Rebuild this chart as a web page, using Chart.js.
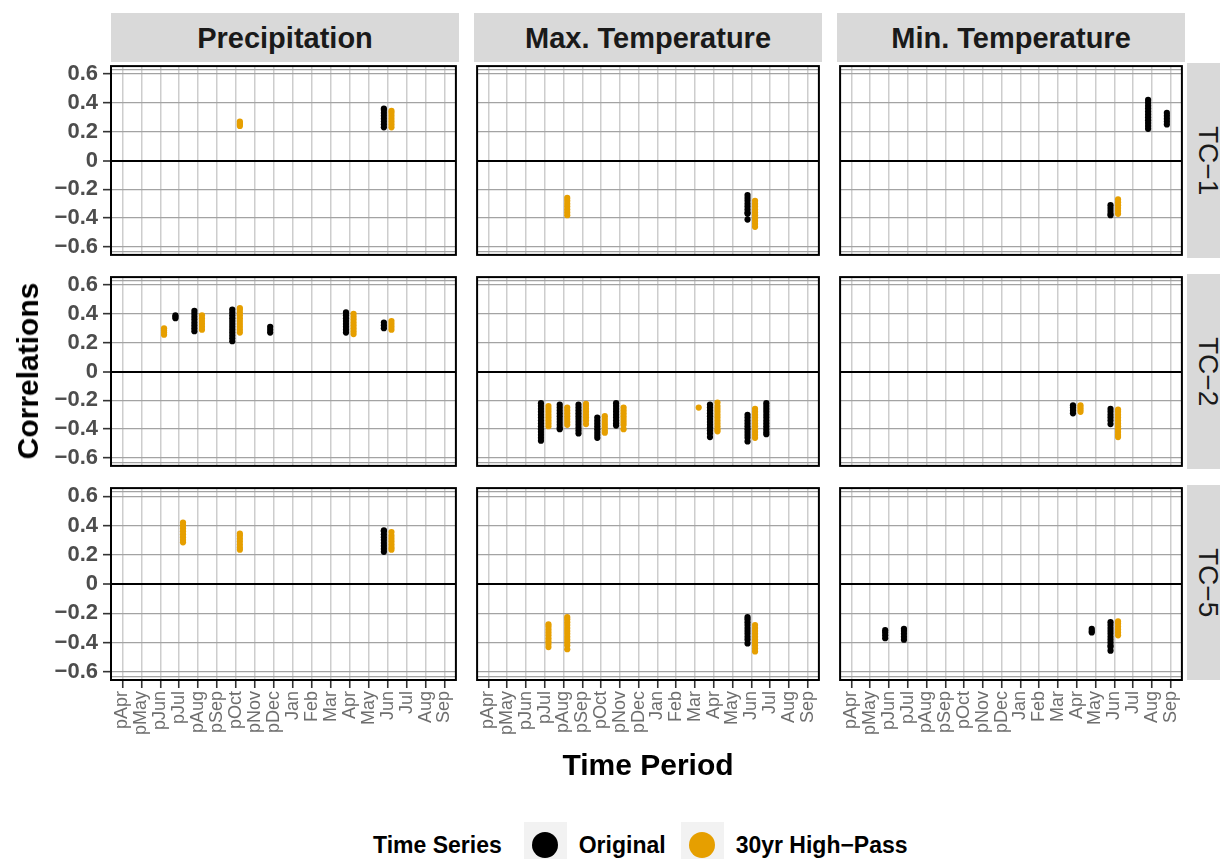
<!DOCTYPE html>
<html>
<head>
<meta charset="utf-8">
<script src="https://cdn.jsdelivr.net/npm/chart.js@4.4.0/dist/chart.umd.min.js"></script>
<style>
  body { margin: 0; width: 1220px; height: 859px; overflow: hidden; background: #fff; position: relative;
         font-family: "Liberation Sans", Arial, sans-serif; }
  .panel { position: absolute; }
  .strip-top { position: absolute; top: 13px; height: 49px; width: 348px; background: #d9d9d9;
               color: #1a1a1a; font-weight: bold; font-size: 29px; line-height: 51px; text-align: center; }
  .strip-right { position: absolute; left: 1187px; width: 42px; height: 195px; background: #d9d9d9;
                 color: #1a1a1a; font-size: 28px; writing-mode: vertical-rl; text-align: center; line-height: 42px; }
  .axis-title { position: absolute; font-weight: bold; font-size: 30px; color: #000; white-space: nowrap; }
  .legend { position: absolute; top: 822px; left: 373px; height: 46px; display: flex; align-items: center;
            font-weight: bold; font-size: 23px; color: #000; white-space: nowrap; }
  .key { width: 43px; height: 46px; background: #f2f2f2; display: flex; align-items: center; justify-content: center; }
  .key span { width: 26px; height: 26px; border-radius: 50%; display: block; }
</style>
</head>
<body>
<script>
// x categories: previous-year months (p...) then current-year months
const months = ['pApr', 'pMay', 'pJun', 'pJul', 'pAug', 'pSep', 'pOct', 'pNov', 'pDec',
                'Jan', 'Feb', 'Mar', 'Apr', 'May', 'Jun', 'Jul', 'Aug', 'Sep'];
const variables = ['Precipitation', 'Max. Temperature', 'Min. Temperature'];
const components = ['TC\u22121', 'TC\u22122', 'TC\u22125'];
const seriesNames = ['Original', '30yr High\u2212Pass'];
const seriesColors = ['#000000', '#E69F00'];
const yTickValues = [-0.6, -0.4, -0.2, 0, 0.2, 0.4, 0.6];
const yEdgeLines = [-0.63, 0.63];

// significant correlations per month, one object per facet and series
const precipTC1Original = { Jun: [0.23, 0.25, 0.27, 0.29, 0.31, 0.33, 0.35, 0.36] };
const precipTC1HighPass = { pOct: [0.24, 0.25, 0.26, 0.27], Jun: [0.23, 0.25, 0.27, 0.29, 0.31, 0.33, 0.345] };
const maxTempTC1Original = { Jun: [-0.24, -0.26, -0.28, -0.30, -0.32, -0.34, -0.36, -0.37, -0.41] };
const maxTempTC1HighPass = { pAug: [-0.26, -0.28, -0.30, -0.32, -0.34, -0.36, -0.38],
                             Jun: [-0.28, -0.30, -0.32, -0.34, -0.36, -0.38, -0.40, -0.42, -0.44, -0.46] };
const minTempTC1Original = { Jun: [-0.31, -0.33, -0.35, -0.37, -0.38],
                             Aug: [0.22, 0.24, 0.26, 0.28, 0.30, 0.32, 0.34, 0.36, 0.38, 0.40, 0.42],
                             Sep: [0.25, 0.27, 0.29, 0.31, 0.33] };
const minTempTC1HighPass = { Jun: [-0.27, -0.29, -0.31, -0.33, -0.35, -0.37] };

const precipTC2Original = { pJul: [0.37, 0.38, 0.39],
                            pAug: [0.28, 0.30, 0.32, 0.34, 0.36, 0.38, 0.40, 0.42],
                            pOct: [0.21, 0.23, 0.25, 0.27, 0.29, 0.31, 0.33, 0.35, 0.37, 0.39, 0.41, 0.43],
                            pDec: [0.27, 0.29, 0.31],
                            Apr: [0.27, 0.29, 0.31, 0.33, 0.35, 0.37, 0.39, 0.41],
                            Jun: [0.30, 0.32, 0.34] };
const precipTC2HighPass = { pJun: [0.255, 0.27, 0.285, 0.30],
                            pAug: [0.29, 0.31, 0.33, 0.35, 0.37, 0.39],
                            pOct: [0.27, 0.29, 0.31, 0.33, 0.35, 0.37, 0.39, 0.41, 0.43, 0.44],
                            Apr: [0.26, 0.28, 0.30, 0.32, 0.34, 0.36, 0.38, 0.40],
                            Jun: [0.29, 0.31, 0.33, 0.35] };
const maxTempTC2Original = { pJul: [-0.22, -0.24, -0.26, -0.28, -0.30, -0.32, -0.34, -0.36, -0.38, -0.40, -0.42, -0.44, -0.46, -0.48],
                             pAug: [-0.23, -0.25, -0.27, -0.29, -0.31, -0.33, -0.35, -0.37, -0.39, -0.40],
                             pSep: [-0.23, -0.25, -0.27, -0.29, -0.31, -0.33, -0.35, -0.37, -0.39, -0.41, -0.43],
                             pOct: [-0.32, -0.34, -0.36, -0.38, -0.40, -0.42, -0.44, -0.46],
                             pNov: [-0.22, -0.24, -0.26, -0.28, -0.30, -0.32, -0.34, -0.36, -0.375],
                             Apr: [-0.23, -0.25, -0.27, -0.29, -0.31, -0.33, -0.35, -0.37, -0.39, -0.41, -0.43, -0.455],
                             Jun: [-0.30, -0.32, -0.34, -0.36, -0.38, -0.40, -0.42, -0.44, -0.46, -0.485],
                             Jul: [-0.22, -0.24, -0.26, -0.28, -0.30, -0.32, -0.34, -0.36, -0.38, -0.40, -0.42, -0.435] };
const maxTempTC2HighPass = { pJul: [-0.24, -0.26, -0.28, -0.30, -0.32, -0.34, -0.36, -0.38],
                             pAug: [-0.25, -0.27, -0.29, -0.31, -0.33, -0.35, -0.37],
                             pSep: [-0.225, -0.24, -0.26, -0.28, -0.30, -0.32, -0.34, -0.365],
                             pOct: [-0.31, -0.33, -0.35, -0.37, -0.39, -0.41, -0.425],
                             pNov: [-0.25, -0.27, -0.29, -0.31, -0.33, -0.35, -0.37, -0.40],
                             Mar: [-0.25],
                             Apr: [-0.215, -0.24, -0.26, -0.28, -0.30, -0.32, -0.34, -0.36, -0.38, -0.40, -0.415],
                             Jun: [-0.26, -0.28, -0.30, -0.32, -0.34, -0.36, -0.38, -0.40, -0.42, -0.44, -0.46] };
const minTempTC2Original = { Apr: [-0.235, -0.25, -0.27, -0.29],
                             Jun: [-0.26, -0.28, -0.30, -0.32, -0.34, -0.365] };
const minTempTC2HighPass = { Apr: [-0.235, -0.25, -0.265, -0.28],
                             Jun: [-0.265, -0.28, -0.30, -0.32, -0.34, -0.36, -0.38, -0.40, -0.42, -0.44, -0.455] };

const precipTC5Original = { Jun: [0.22, 0.24, 0.26, 0.28, 0.30, 0.32, 0.34, 0.36, 0.367] };
const precipTC5HighPass = { pJul: [0.285, 0.30, 0.32, 0.34, 0.36, 0.38, 0.40, 0.42],
                            pOct: [0.235, 0.25, 0.27, 0.29, 0.31, 0.33, 0.345],
                            Jun: [0.235, 0.25, 0.27, 0.29, 0.31, 0.33, 0.355] };
const maxTempTC5Original = { Jun: [-0.225, -0.24, -0.26, -0.28, -0.30, -0.32, -0.34, -0.36, -0.38, -0.405] };
const maxTempTC5HighPass = { pJul: [-0.275, -0.29, -0.31, -0.33, -0.35, -0.37, -0.39, -0.41, -0.43],
                             pAug: [-0.225, -0.24, -0.26, -0.28, -0.30, -0.32, -0.34, -0.36, -0.38, -0.40, -0.42, -0.445],
                             Jun: [-0.28, -0.30, -0.32, -0.34, -0.36, -0.38, -0.40, -0.42, -0.44, -0.46] };
const minTempTC5Original = { pJun: [-0.315, -0.33, -0.35, -0.37],
                             pJul: [-0.305, -0.32, -0.34, -0.36, -0.38],
                             May: [-0.305, -0.32, -0.33],
                             Jun: [-0.26, -0.28, -0.30, -0.32, -0.34, -0.36, -0.38, -0.40, -0.42, -0.43, -0.455] };
const minTempTC5HighPass = { Jun: [-0.255, -0.27, -0.29, -0.31, -0.33, -0.35] };

// rows = components, columns = variables
const facets = [
  [[precipTC1Original, precipTC1HighPass], [maxTempTC1Original, maxTempTC1HighPass], [minTempTC1Original, minTempTC1HighPass]],
  [[precipTC2Original, precipTC2HighPass], [maxTempTC2Original, maxTempTC2HighPass], [minTempTC2Original, minTempTC2HighPass]],
  [[precipTC5Original, precipTC5HighPass], [maxTempTC5Original, maxTempTC5HighPass], [minTempTC5Original, minTempTC5HighPass]]
];

const colLeft = [111, 474, 837];
const rowTop = [63, 274, 485];
const panelW = 348, panelH = 195;
const yAxisW = 111, xAxisH = 100;
const dodge = [-0.2, 0.2];

function toPoints(byMonth, offset) {
  return Object.entries(byMonth).flatMap(([m, vals]) =>
    vals.map(v => ({ x: months.indexOf(m) + offset, y: v })));
}

function yLabel(v) {
  if (!yTickValues.includes(v)) return '';
  if (v === 0) return '0';
  return (v < 0 ? '\u2212' : '') + Math.abs(v).toFixed(1);
}

const panelBorder = {
  id: 'panelBorder',
  afterDatasetsDraw(chart) {
    const a = chart.chartArea, ctx = chart.ctx;
    ctx.save();
    ctx.strokeStyle = '#000';
    ctx.lineWidth = 2;
    ctx.strokeRect(a.left, a.top, a.right - a.left, a.bottom - a.top);
    ctx.restore();
  }
};

function zeroPadding(s) {
  s.paddingTop = 0; s.paddingBottom = 0; s.paddingLeft = 0; s.paddingRight = 0;
}

function makePanel(row, col) {
  const isLeft = col === 0, isBottom = row === 2;
  const left = isLeft ? 0 : colLeft[col];
  const w = isLeft ? yAxisW + panelW : panelW;
  const h = isBottom ? panelH + xAxisH : panelH;
  const div = document.createElement('div');
  div.className = 'panel';
  div.style.cssText = `left:${left}px;top:${rowTop[row]}px;width:${w}px;height:${h}px`;
  const canvas = document.createElement('canvas');
  canvas.width = w; canvas.height = h;
  canvas.style.width = w + 'px'; canvas.style.height = h + 'px';
  div.appendChild(canvas);
  document.body.appendChild(div);

  const datasets = facets[row][col].map((byMonth, i) => ({
    label: seriesNames[i],
    data: toPoints(byMonth, dodge[i]),
    backgroundColor: seriesColors[i],
    borderWidth: 0,
    pointRadius: 3.1,
    pointHoverRadius: 3.1
  }));

  new Chart(canvas, {
    type: 'scatter',
    data: { datasets },
    options: {
      responsive: false,
      animation: false,
      events: [],
      layout: { padding: 0 },
      plugins: { legend: { display: false }, tooltip: { enabled: false } },
      scales: {
        x: {
          type: 'linear', min: -0.6, max: 17.6,
          afterBuildTicks: s => { s.ticks = months.map((m, i) => ({ value: i })); },
          afterFit: s => { s.height = isBottom ? xAxisH : 0; zeroPadding(s); },
          border: { display: false },
          grid: { color: '#cdcdcd', lineWidth: 1.5, drawTicks: isBottom, tickLength: 8,
                  tickColor: '#333', tickWidth: 1.6 },
          ticks: { display: isBottom, autoSkip: false, minRotation: 90, maxRotation: 90, padding: 3,
                   color: '#6e6e6e', font: { family: 'Liberation Sans', size: 18 },
                   callback: v => months[v] }
        },
        y: {
          type: 'linear', min: -0.655, max: 0.655,
          afterBuildTicks: s => {
            s.ticks = [yEdgeLines[0], ...yTickValues, yEdgeLines[1]].map(v => ({ value: v }));
          },
          afterFit: s => { s.width = isLeft ? yAxisW : 0; zeroPadding(s); },
          border: { display: false },
          grid: {
            color: c => c.tick && c.tick.value === 0 ? '#000' : '#a3a3a3',
            lineWidth: c => c.tick && c.tick.value === 0 ? 2 : 1.3,
            drawTicks: isLeft, tickLength: 8, tickWidth: 1.6,
            tickColor: c => c.tick && yTickValues.includes(c.tick.value) ? '#333' : 'rgba(0,0,0,0)'
          },
          ticks: { display: isLeft, autoSkip: false, padding: 5, color: '#4d4d4d',
                   font: { family: 'Liberation Sans', size: 22, weight: 'bold' },
                   callback: yLabel }
        }
      }
    },
    plugins: [panelBorder]
  });
}

for (let r = 0; r < 3; r++) for (let c = 0; c < 3; c++) makePanel(r, c);

// facet strips
variables.forEach((name, c) => {
  const d = document.createElement('div');
  d.className = 'strip-top';
  d.style.left = colLeft[c] + 'px';
  d.textContent = name;
  document.body.appendChild(d);
});
components.forEach((name, r) => {
  const d = document.createElement('div');
  d.className = 'strip-right';
  d.style.top = rowTop[r] + 'px';
  d.textContent = name;
  document.body.appendChild(d);
});

// axis titles
const yTitle = document.createElement('div');
yTitle.className = 'axis-title';
yTitle.textContent = 'Correlations';
yTitle.style.cssText += 'left:28px;top:371px;transform:translate(-50%,-50%) rotate(-90deg);';
document.body.appendChild(yTitle);
const xTitle = document.createElement('div');
xTitle.className = 'axis-title';
xTitle.textContent = 'Time Period';
xTitle.style.cssText += 'left:648px;top:765px;transform:translate(-50%,-50%);';
document.body.appendChild(xTitle);

// legend
const legend = document.createElement('div');
legend.className = 'legend';
legend.innerHTML = '<span style="margin-right:22px">Time Series</span>' +
  seriesNames.map((n, i) =>
    `<div class="key"><span style="background:${seriesColors[i]}"></span></div>` +
    `<span style="margin:0 ${i === 0 ? 15 : 0}px 0 12px">${n}</span>`).join('');
document.body.appendChild(legend);
</script>
</body>
</html>
